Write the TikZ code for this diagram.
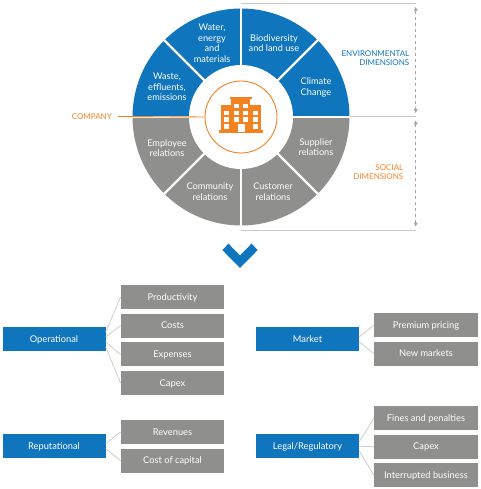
\documentclass[tikz,border=0pt]{standalone}
\usepackage{fontspec}
\setmainfont{Lato}
\usepackage{xcolor}
\usetikzlibrary{arrows.meta,positioning}
\definecolor{brandblue}{HTML}{0F75BC}
\definecolor{brandgray}{HTML}{8F8F8D}
\definecolor{brandorange}{HTML}{F58220}
\definecolor{linegray}{HTML}{C8C8C8}
\tikzset{
    sector/.style={text=white, font=\fontsize{9.2}{10.5}\selectfont, align=center, inner sep=0pt},
    headbox/.style={fill=brandblue, text=white, font=\fontsize{9.3}{11}\selectfont, minimum width=103pt, minimum height=24pt, inner sep=0pt, text height=8pt, text depth=2pt},
    itembox/.style={fill=brandgray, text=white, font=\fontsize{9.3}{11}\selectfont, minimum width=103.5pt, minimum height=24pt, inner sep=0pt, text height=8pt, text depth=2pt},
    link/.style={draw=linegray, line width=0.7pt},
    rule/.style={draw=linegray, line width=1pt},
    span/.style={draw=brandgray!80, dashed, line width=0.5pt, {Triangle[length=4pt,width=4pt]}-{Triangle[length=4pt,width=4pt]}},
    caption/.style={font=\fontsize{8}{9.2}\selectfont, align=right, inner sep=0pt}
}
\begin{document}
\begin{tikzpicture}[x=1pt, y=1pt, node distance=4.3pt]
\useasboundingbox (0,0) rectangle (480,-489);
\coordinate (c) at (241,-117);

% wheel
\foreach \a in {0,45,90,135} {
    \fill[brandblue] (c) -- ++(\a:108.5) arc (\a:\a+45:108.5) -- cycle;
}
\foreach \a in {180,225,270,315} {
    \fill[brandgray] (c) -- ++(\a:108.5) arc (\a:\a+45:108.5) -- cycle;
}
\foreach \a in {0,45,...,315} {
    \draw[white, line width=2.2pt] (c) -- ++(\a:110);
}
\fill[white] (c) circle (52);

\node[sector] (water) at (212,-43) {Water,\\energy\\and\\materials};
\node[sector] (biodiv) at (274,-43) {Biodiversity\\and land use};
\node[sector] (climate) at (316,-87.5) {Climate\\Change};
\node[sector] (waste) at (167,-87) {Waste,\\effluents,\\emissions};
\node[sector] (employee) at (167,-148) {Employee\\relations};
\node[sector] (community) at (210,-191.5) {Community\\relations};
\node[sector] (customer) at (273,-191.5) {Customer\\relations};
\node[sector] (supplier) at (316,-147) {Supplier\\relations};

% company
\node[draw=brandorange, line width=0.9pt, circle, minimum size=72pt, inner sep=0pt] (hub) at (c) {};
\node[font=\fontsize{8}{9}\selectfont, text=brandorange, inner sep=0pt, anchor=east] (company) at (112,-116.5) {COMPANY};
\draw[brandorange, line width=0.9pt] ([xshift=6pt]company.east) -- (hub.west);

\fill[brandorange] (219,-133) rectangle (263,-130.5);
\fill[brandorange] (220.7,-105.3) rectangle (261.3,-131);
\fill[brandorange] (230.7,-99) rectangle (250,-106);
\fill[brandorange] (229.7,-97.3) rectangle (252,-99.3);
\foreach \x in {234.3,243.3} {
    \foreach \y in {103.7,110.7,117.3} {
        \fill[white] (\x,-\y) rectangle (\x+4.6,-\y-4.5);
    }
}
\foreach \x in {224.3,253} {
    \foreach \y in {110.7,117.3,124.3} {
        \fill[white] (\x,-\y) rectangle (\x+4.6,-\y-4.5);
    }
}
\fill[white] (238.3,-124.3) rectangle (245,-131.7);

% dimensions
\coordinate (ruleA) at (241,-4);
\coordinate (ruleB) at (416,-4);
\coordinate (ruleC) at (350,-116.5);
\coordinate (ruleD) at (416,-116.5);
\coordinate (ruleE) at (241,-230);
\coordinate (ruleF) at (416,-230);
\draw[rule] (ruleA) -- (ruleB);
\draw[rule] (ruleC) -- (ruleD);
\draw[rule] (ruleE) -- (ruleF);
\coordinate (envtop) at (415.7,-7);
\coordinate (envbot) at (415.7,-113);
\coordinate (soctop) at (415.7,-120.5);
\coordinate (socbot) at (415.7,-226.5);
\draw[span] (envtop) -- (envbot);
\draw[span] (soctop) -- (socbot);
\node[caption, text=brandblue, anchor=east] (envlabel) at (409.5,-58.5) {ENVIRONMENTAL\\DIMENSIONS};
\node[caption, text=brandorange, anchor=east] (soclabel) at (403.5,-172.5) {SOCIAL\\DIMENSIONS};

% chevron
\fill[brandblue] (222.3,-250) -- (228.5,-243.7) -- (240,-255.5) -- (251.5,-243.7) -- (257.7,-250) -- (240,-268) -- cycle;

% operational
\node[headbox] (oper) at (54,-339.4) {Operational};
\node[itembox] (prod) at (172.5,-297) {Productivity};
\node[itembox, below=of prod] (costs) {Costs};
\node[itembox, below=of costs] (exp) {Expenses};
\node[itembox, below=of exp] (capexA) {Capex};
\foreach \b/\o in {prod/7.5,costs/2.5,exp/-2.5,capexA/-7.5} {
    \draw[link] ([yshift=\o pt]oper.east) -- (\b.west);
}

% reputational
\node[headbox] (reput) at (54,-446.3) {Reputational};
\node[itembox] (rev) at (172.5,-432) {Revenues};
\node[itembox, below=of rev] (capital) {Cost of capital};
\foreach \b/\o in {rev/2.5,capital/-2.5} {
    \draw[link] ([yshift=\o pt]reput.east) -- (\b.west);
}

% market
\node[headbox] (market) at (307.5,-339.4) {Market};
\node[itembox] (premium) at (426,-325) {Premium pricing};
\node[itembox, below=of premium] (newm) {New markets};
\foreach \b/\o in {premium/2.5,newm/-2.5} {
    \draw[link] ([yshift=\o pt]market.east) -- (\b.west);
}

% legal
\node[headbox] (legal) at (307.5,-446.3) {Legal/Regulatory};
\node[itembox] (fines) at (426,-418) {Fines and penalties};
\node[itembox, below=of fines] (capexB) {Capex};
\node[itembox, below=of capexB] (interr) {Interrupted business};
\foreach \b/\o in {fines/4.5,capexB/0,interr/-4.5} {
    \draw[link] ([yshift=\o pt]legal.east) -- (\b.west);
}
\end{tikzpicture}
\end{document}
